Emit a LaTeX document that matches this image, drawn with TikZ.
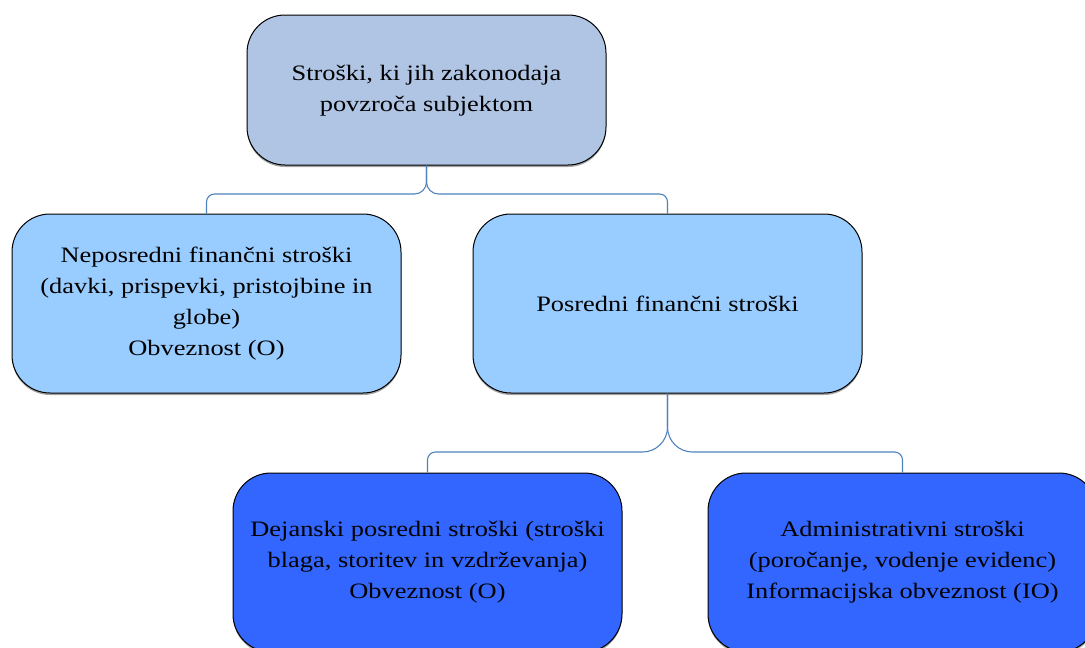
\documentclass[tikz,border=0pt]{standalone}
\usepackage{fontspec}
\setmainfont{Liberation Serif}[FakeStretch=1.2]
\usetikzlibrary{shadows,calc}
\definecolor{topfill}{HTML}{B0C4E4}
\definecolor{midfill}{HTML}{99CCFF}
\definecolor{lowfill}{HTML}{3366FF}
\definecolor{linkblue}{HTML}{4F81BD}
\tikzset{
  box/.style={draw=black, line width=1pt, rounded corners=38pt, align=center,
    text=black, font=\fontsize{22pt}{31pt}\selectfont,
    minimum width=389pt, minimum height=179pt, inner sep=0pt,
    drop shadow={shadow xshift=0pt, shadow yshift=-2pt, fill=black!60, opacity=0.6}},
  conn/.style={draw=linkblue, line width=1.1pt},
}
\begin{document}
\begin{tikzpicture}[x=1pt,y=1pt]
\useasboundingbox (0,0) rectangle (1085,-648);
\clip (0,0) rectangle (1085,-648);
% hierarchy boxes
\node[box, fill=topfill, minimum width=359pt, minimum height=150pt] (root) at (426.5,-90)
  {\raisebox{-2pt}{\begin{tabular}{@{}c@{}}Stroški, ki jih zakonodaja\\povzroča subjektom\end{tabular}}};
\node[box, fill=midfill] (direct) at (206.5,-303.5)
  {Neposredni finančni stroški\\(davki, prispevki, pristojbine in\\globe)\\Obveznost (O)};
\node[box, fill=midfill] (indirect) at (667.5,-303.5)
  {Posredni finančni stroški};
\node[box, fill=lowfill] (actual) at (427.5,-562.5)
  {Dejanski posredni stroški (stroški\\blaga, storitev in vzdrževanja)\\Obveznost (O)};
\node[box, fill=lowfill] (admin) at (902.5,-562.5)
  {Administrativni stroški\\(poročanje, vodenje evidenc)\\Informacijska obveznost (IO)};
% brace-like connectors from root
\coordinate (j1) at (0,-194);
\draw[conn] (root.south) -- ($(root.south |- j1)+(0,12)$) arc(0:-90:12)
  -- ($(direct.north |- j1)+(8,0)$) arc(90:180:8) -- (direct.north);
\draw[conn] (root.south) -- ($(root.south |- j1)+(0,12)$) arc(180:270:12)
  -- ($(indirect.north |- j1)+(-8,0)$) arc(90:0:8) -- (indirect.north);
% brace-like connectors from indirect costs
\coordinate (j2) at (0,-452);
\draw[conn] (indirect.south) -- ($(indirect.south |- j2)+(0,25)$) arc(0:-90:25)
  -- ($(actual.north |- j2)+(8,0)$) arc(90:180:8) -- (actual.north);
\draw[conn] (indirect.south) -- ($(indirect.south |- j2)+(0,25)$) arc(180:270:25)
  -- ($(admin.north |- j2)+(-8,0)$) arc(90:0:8) -- (admin.north);
\end{tikzpicture}
\end{document}
